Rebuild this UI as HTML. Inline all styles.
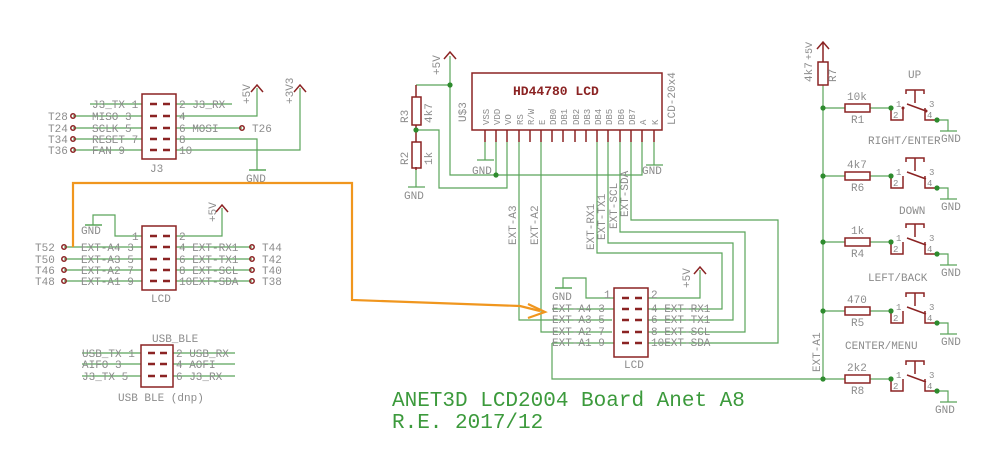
<!DOCTYPE html>
<html><head><meta charset="utf-8"><style>
html,body{margin:0;padding:0;background:#fff;}
svg{display:block;}
text{font-family:"Liberation Mono",monospace;fill:#8c8c8c;font-size:11px;}
.g{stroke:#5aa55a;stroke-width:1.2;fill:none;}
.m{stroke:#8b2323;stroke-width:1.5;fill:none;}
.mt{fill:#8b2323;}
.d{fill:#2e8b2e;}
</style></head><body>
<svg width="1000" height="469" viewBox="0 0 1000 469" xmlns="http://www.w3.org/2000/svg">
<rect width="1000" height="469" fill="#fff"/>

<!-- ===== J3 ===== -->
<g class="g">
<path d="M90 104H142 M73 116H142 M73 128H142 M73 139H142 M73 150H142"/>
<path d="M176 104H232 M176 116H257V88 M176 128H242 M176 139H257V170 M176 150H300V88"/>
<path d="M249 170H266" stroke-width="1.6"/>
</g>
<g class="m">
<rect x="142" y="94" width="34" height="65"/>
<path d="M150 104h7M163 104h7M150 116h7M163 116h7M150 128h7M163 128h7M150 139h7M163 139h7M150 150h7M163 150h7" stroke-width="2.5"/>
<path d="M251 92l6-7 6 7M294 92l6-7 6 7"/>
<circle cx="73" cy="116" r="2.2"/><circle cx="73" cy="128" r="2.2"/><circle cx="73" cy="139" r="2.2"/><circle cx="73" cy="150" r="2.2"/><circle cx="242" cy="128" r="2.2"/>
</g>
<text x="92" y="108">J3_TX 1</text><text x="92" y="120">MISO  3</text><text x="92" y="132">SCLK  5</text><text x="92" y="143">RESET 7</text><text x="92" y="154">FAN   9</text>
<text x="179" y="108">2 J3_RX</text><text x="179" y="120">4</text><text x="179" y="132">6   MOSI</text><text x="179" y="143">8</text><text x="179" y="154">10</text>
<text x="48" y="120">T28</text><text x="48" y="132">T24</text><text x="48" y="143">T34</text><text x="48" y="154">T36</text><text x="252" y="132">T26</text>
<text x="150" y="172">J3</text><text x="246" y="182">GND</text>
<text transform="translate(250 104) rotate(-90)">+5V</text><text transform="translate(293 104) rotate(-90)">+3V3</text>

<!-- ===== LCD left connector ===== -->
<g class="g">
<path d="M93 225V215H115V236H142"/>
<path d="M85 225H102" stroke-width="1.6"/>
<path d="M64 247H142 M64 259H142 M64 270H142 M64 281H142"/>
<path d="M176 236H222V208 M176 247H252 M176 259H252 M176 270H252 M176 281H252"/>
</g>
<g class="m">
<rect x="142" y="226" width="34" height="64"/>
<path d="M150 236h7M163 236h7M150 247h7M163 247h7M150 259h7M163 259h7M150 270h7M163 270h7M150 281h7M163 281h7" stroke-width="2.5"/>
<path d="M216 212l6-7 6 7"/>
<circle cx="64" cy="247" r="2.2"/><circle cx="64" cy="259" r="2.2"/><circle cx="64" cy="270" r="2.2"/><circle cx="64" cy="281" r="2.2"/>
<circle cx="252" cy="247" r="2.2"/><circle cx="252" cy="259" r="2.2"/><circle cx="252" cy="270" r="2.2"/><circle cx="252" cy="281" r="2.2"/>
</g>
<text x="81" y="234">GND</text><text x="132" y="240">1</text>
<text x="81" y="251">EXT-A4 3</text><text x="81" y="263">EXT-A3 5</text><text x="81" y="274">EXT-A2 7</text><text x="81" y="285">EXT-A1 9</text>
<text x="179" y="240">2</text>
<text x="179" y="251">4 EXT-RX1</text><text x="179" y="263">6 EXT-TX1</text><text x="179" y="274">8 EXT-SCL</text><text x="179" y="285">10EXT-SDA</text>
<text x="35" y="251">T52</text><text x="35" y="263">T50</text><text x="35" y="274">T46</text><text x="35" y="285">T48</text>
<text x="262" y="251">T44</text><text x="262" y="263">T42</text><text x="262" y="274">T40</text><text x="262" y="285">T38</text>
<text x="151" y="302">LCD</text>
<text transform="translate(216 222) rotate(-90)">+5V</text>

<!-- ===== USB_BLE ===== -->
<g class="g"><path d="M82 353H141 M82 364H141 M82 376H141 M173 353H235 M173 364H235 M173 376H235"/></g>
<g class="m">
<rect x="141" y="345" width="32" height="42"/>
<path d="M148 353h7M160 353h7M148 364h7M160 364h7M148 376h7M160 376h7" stroke-width="2.5"/>
</g>
<text x="152" y="342">USB_BLE</text>
<text x="82" y="357">USB_TX 1</text><text x="82" y="368">AIFO   3</text><text x="82" y="380">J3_TX  5</text>
<text x="176" y="357">2 USB_RX</text><text x="176" y="368">4    AOFI</text><text x="176" y="380">6   J3_RX</text>
<text x="118" y="401">USB BLE (dnp)</text>

<!-- ===== HD44780 ===== -->
<g class="g">
<path d="M450 56V175H642V142"/>
<path d="M416 85H450"/>
<path d="M416 130H439V188H507V142"/>
<path d="M496 142V175"/>
<path d="M485 142V160 M477 160H494" />
<path d="M654 142V165 M646 165H663"/>
<path d="M519 142V320H612 M541 142V332H612"/>
<path d="M597 142V253H722V309H648 M608 142V243H733V320H648 M620 142V232H745V332H648 M631 142V220H778V343H648"/>
<path d="M416 168V187 M408 187H425"/>
</g>
<g class="m">
<path d="M444 59l6-7 6 7"/>
<path d="M416 85V97 M416 125V142 M416 167V170"/>
<rect x="412" y="97" width="9" height="28"/><rect x="412" y="142" width="9" height="26"/>
<rect x="472" y="73" width="190" height="57"/>
<path d="M485 130v12M496 130v12M507 130v12M519 130v12M530 130v12M541 130v12M552 130v12M563 130v12M575 130v12M586 130v12M597 130v12M608 130v12M620 130v12M631 130v12M642 130v12M654 130v12"/>
</g>
<circle class="d" cx="450" cy="85" r="2.6"/><circle class="d" cx="416" cy="130" r="2.6"/><circle class="d" cx="496" cy="175" r="2.6"/>
<text x="513" y="95" class="mt" style="font-weight:bold;font-size:13px">HD44780 LCD</text>
<g font-size="9">
<text transform="translate(489 125) rotate(-90)" style="font-size:9px">VSS</text>
<text transform="translate(500 125) rotate(-90)" style="font-size:9px">VDD</text>
<text transform="translate(511 125) rotate(-90)" style="font-size:9px">VO</text>
<text transform="translate(523 125) rotate(-90)" style="font-size:9px">RS</text>
<text transform="translate(534 125) rotate(-90)" style="font-size:9px">R/W</text>
<text transform="translate(545 125) rotate(-90)" style="font-size:9px">E</text>
<text transform="translate(556 125) rotate(-90)" style="font-size:9px">DB0</text>
<text transform="translate(567 125) rotate(-90)" style="font-size:9px">DB1</text>
<text transform="translate(579 125) rotate(-90)" style="font-size:9px">DB2</text>
<text transform="translate(590 125) rotate(-90)" style="font-size:9px">DB3</text>
<text transform="translate(601 125) rotate(-90)" style="font-size:9px">DB4</text>
<text transform="translate(612 125) rotate(-90)" style="font-size:9px">DB5</text>
<text transform="translate(624 125) rotate(-90)" style="font-size:9px">DB6</text>
<text transform="translate(635 125) rotate(-90)" style="font-size:9px">DB7</text>
<text transform="translate(646 125) rotate(-90)" style="font-size:9px">A</text>
<text transform="translate(658 125) rotate(-90)" style="font-size:9px">K</text>
</g>
<text transform="translate(466 122) rotate(-90)">U$3</text>
<text transform="translate(675 125) rotate(-90)">LCD-20x4</text>
<text transform="translate(440 75) rotate(-90)">+5V</text>
<text transform="translate(408 123) rotate(-90)">R3</text><text transform="translate(432 123) rotate(-90)">4k7</text>
<text transform="translate(408 165) rotate(-90)">R2</text><text transform="translate(432 165) rotate(-90)">1k</text>
<text x="404" y="199">GND</text><text x="472" y="174">GND</text><text x="642" y="174">GND</text>
<text transform="translate(516 245) rotate(-90)">EXT-A3</text>
<text transform="translate(538 245) rotate(-90)">EXT-A2</text>
<text transform="translate(594 250) rotate(-90)">EXT-RX1</text>
<text transform="translate(605 240) rotate(-90)">EXT-TX1</text>
<text transform="translate(617 229) rotate(-90)">EXT-SCL</text>
<text transform="translate(628 217) rotate(-90)">EXT-SDA</text>

<!-- ===== LCD right connector ===== -->
<g class="g">
<path d="M563 288V278H586V298H614"/>
<path d="M555 288H572" stroke-width="1.6"/>
<path d="M552 309H614 M552 343H614 M552 343V379H823"/>
<path d="M648 298H700V270"/>
</g>
<g class="m">
<rect x="614" y="288" width="34" height="69"/>
<path d="M622 298h7M635 298h7M622 309h7M635 309h7M622 320h7M635 320h7M622 332h7M635 332h7M622 343h7M635 343h7" stroke-width="2.5"/>
<path d="M694 274l6-7 6 7"/>
</g>
<text x="552" y="300">GND</text><text x="604" y="298">1</text>
<text x="552" y="312">EXT-A4 3</text><text x="552" y="323">EXT-A3 5</text><text x="552" y="335">EXT-A2 7</text><text x="552" y="346">EXT-A1 9</text>
<text x="651" y="298">2</text>
<text x="651" y="312">4 EXT-RX1</text><text x="651" y="323">6 EXT-TX1</text><text x="651" y="335">8 EXT-SCL</text><text x="651" y="346">10EXT-SDA</text>
<text x="624" y="368">LCD</text>
<text transform="translate(690 288) rotate(-90)">+5V</text>

<!-- ===== Orange arrow ===== -->
<path d="M73 247V183H352V300L520 306L540 311" stroke="#f0961e" stroke-width="2.2" fill="none"/>
<path d="M528 304L545 312L528 318" stroke="#f0961e" stroke-width="2.2" fill="none"/>

<!-- ===== Buttons ===== -->
<g class="g"><path d="M823 85V379"/></g>
<g class="m"><path d="M817 49l6-7 6 7 M823 43V62"/><rect x="818" y="62" width="10" height="23"/></g>
<text transform="translate(812 82) rotate(-90)">4k7</text>
<text transform="translate(812 60) rotate(-90)" style="font-size:10px">+5V</text>
<text transform="translate(836 82) rotate(-90)">R7</text>
<text transform="translate(820 372) rotate(-90)">EXT-A1</text>

<g id="sw">
</g>
<!-- rows -->
<g>
<!-- generic switch built per row -->
<g transform="translate(0,108)">
<path class="g" d="M823 0H845 M870 0H891 M937 12H948V23 M940 23H957"/>
<rect class="m" x="845" y="-4" width="25" height="8" stroke-width="1.3"/>
<path class="m" d="M891 0V12H903V0 M925 0V12H937 M907 -4L926 3 M906 -14V-18H924V-14 M915 -18V-5" stroke-width="1.2"/>
<circle class="d" cx="823" cy="0" r="2.6"/><circle class="d" cx="891" cy="0" r="2.6"/><circle class="d" cx="937" cy="12" r="2.6"/>
<circle class="mt" cx="903" cy="0" r="1.5"/><circle class="mt" cx="926" cy="3" r="1.5"/>
<text x="896" y="-1" style="font-size:9px">1</text><text x="893" y="10" style="font-size:9px">2</text><text x="929" y="-1" style="font-size:9px">3</text><text x="927" y="10" style="font-size:9px">4</text>
<text x="847" y="-8">10k</text><text x="851" y="15">R1</text><text x="941" y="34">GND</text>
<text x="908" y="-30">UP</text>
</g>
<g transform="translate(0,176)">
<path class="g" d="M823 0H845 M870 0H891 M937 12H948V23 M940 23H957"/>
<rect class="m" x="845" y="-4" width="25" height="8" stroke-width="1.3"/>
<path class="m" d="M891 0V12H903V0 M925 0V12H937 M907 -4L926 3 M906 -14V-18H924V-14 M915 -18V-5" stroke-width="1.2"/>
<circle class="d" cx="823" cy="0" r="2.6"/><circle class="d" cx="891" cy="0" r="2.6"/><circle class="d" cx="937" cy="12" r="2.6"/>
<text x="896" y="-1" style="font-size:9px">1</text><text x="893" y="10" style="font-size:9px">2</text><text x="929" y="-1" style="font-size:9px">3</text><text x="927" y="10" style="font-size:9px">4</text>
<text x="847" y="-8">4k7</text><text x="851" y="15">R6</text><text x="941" y="34">GND</text>
<text x="868" y="-32">RIGHT/ENTER</text>
</g>
<g transform="translate(0,242)">
<path class="g" d="M823 0H845 M870 0H891 M937 12H948V23 M940 23H957"/>
<rect class="m" x="845" y="-4" width="25" height="8" stroke-width="1.3"/>
<path class="m" d="M891 0V12H903V0 M925 0V12H937 M907 -4L926 3 M906 -14V-18H924V-14 M915 -18V-5" stroke-width="1.2"/>
<circle class="d" cx="823" cy="0" r="2.6"/><circle class="d" cx="891" cy="0" r="2.6"/><circle class="d" cx="937" cy="12" r="2.6"/>
<text x="896" y="-1" style="font-size:9px">1</text><text x="893" y="10" style="font-size:9px">2</text><text x="929" y="-1" style="font-size:9px">3</text><text x="927" y="10" style="font-size:9px">4</text>
<text x="851" y="-8">1k</text><text x="851" y="15">R4</text><text x="941" y="34">GND</text>
<text x="899" y="-28">DOWN</text>
</g>
<g transform="translate(0,311)">
<path class="g" d="M823 0H845 M870 0H891 M937 12H948V23 M940 23H957"/>
<rect class="m" x="845" y="-4" width="25" height="8" stroke-width="1.3"/>
<path class="m" d="M891 0V12H903V0 M925 0V12H937 M907 -4L926 3 M906 -14V-18H924V-14 M915 -18V-5" stroke-width="1.2"/>
<circle class="d" cx="823" cy="0" r="2.6"/><circle class="d" cx="891" cy="0" r="2.6"/><circle class="d" cx="937" cy="12" r="2.6"/>
<text x="896" y="-1" style="font-size:9px">1</text><text x="893" y="10" style="font-size:9px">2</text><text x="929" y="-1" style="font-size:9px">3</text><text x="927" y="10" style="font-size:9px">4</text>
<text x="847" y="-8">470</text><text x="851" y="15">R5</text><text x="941" y="34">GND</text>
<text x="868" y="-30">LEFT/BACK</text>
</g>
<g transform="translate(0,379)">
<path class="g" d="M870 0H891 M823 0H845 M937 12H948V23 M940 23H957"/>
<rect class="m" x="845" y="-4" width="25" height="8" stroke-width="1.3"/>
<path class="m" d="M891 0V12H903V0 M925 0V12H937 M907 -4L926 3 M906 -14V-18H924V-14 M915 -18V-5" stroke-width="1.2"/>
<circle class="d" cx="823" cy="0" r="2.6"/><circle class="d" cx="891" cy="0" r="2.6"/><circle class="d" cx="937" cy="12" r="2.6"/>
<text x="896" y="-1" style="font-size:9px">1</text><text x="893" y="10" style="font-size:9px">2</text><text x="929" y="-1" style="font-size:9px">3</text><text x="927" y="10" style="font-size:9px">4</text>
<text x="847" y="-8">2k2</text><text x="851" y="15">R8</text><text x="935" y="34">GND</text>
<text x="845" y="-30">CENTER/MENU</text>
</g>
</g>

<!-- Title -->
<text x="392" y="406" style="font-size:21px;fill:#3c9a3c">ANET3D LCD2004 Board Anet A8</text>
<text x="392" y="428" style="font-size:21px;fill:#3c9a3c">R.E. 2017/12</text>
</svg>
</body></html>
